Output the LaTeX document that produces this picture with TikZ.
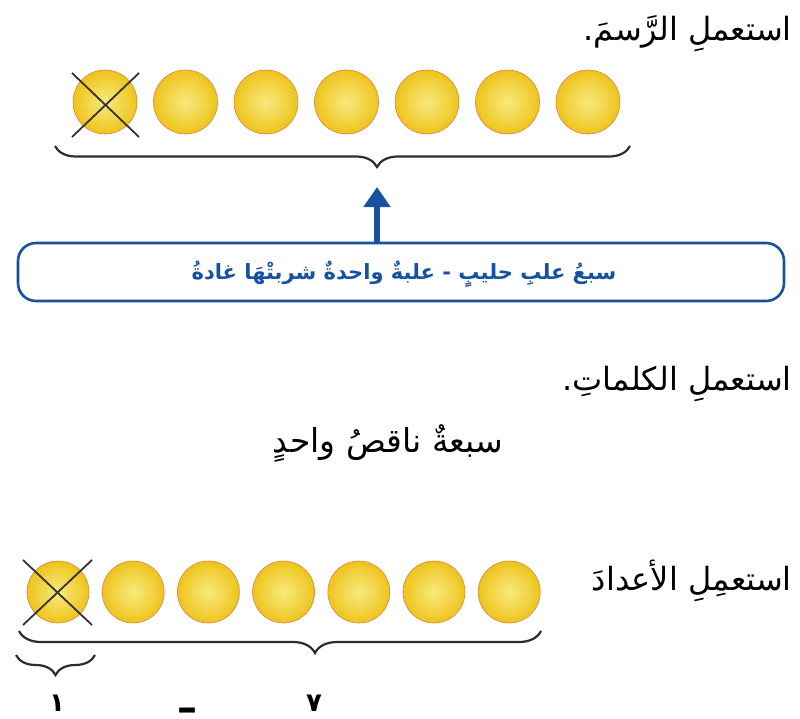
\documentclass[tikz,border=0pt]{standalone}
\usepackage{fontspec}
\TeXXeTstate=1
\newfontfamily\arabicfont[Script=Arabic]{DejaVu Sans}
\usetikzlibrary{decorations.pathreplacing,arrows.meta}
\definecolor{boxblue}{RGB}{22,82,160}
\definecolor{coinin}{RGB}{248,234,125}
\definecolor{coinout}{RGB}{238,196,28}
\definecolor{coinrim}{RGB}{222,130,60}
\definecolor{bracegray}{RGB}{45,45,45}
\tikzset{
  coin/.style={circle, minimum size=#1, inner sep=0pt, shading=radial,
    inner color=coinin, outer color=coinout, draw=coinrim, line width=0.6pt},
  xline/.style={draw=black!80, line width=1.8pt},
  bracelin/.style={draw=bracegray, line width=2.2pt, decorate,
    decoration={brace, mirror, amplitude=#1}},
  title/.style={anchor=base east, inner sep=0pt, font=\arabicfont\fontsize{32}{36}\selectfont},
  plain/.style={anchor=base, inner sep=0pt, font=\arabicfont\fontsize{33}{36}\selectfont},
  blubox/.style={draw=boxblue, line width=2.6pt, rounded corners=18pt,
    minimum width=766pt, minimum height=58pt, inner sep=0pt},
  bluearrow/.style={draw=boxblue, line width=6pt, -{Triangle[width=26pt,length=20pt]}},
  digit/.style={anchor=base, inner sep=0pt, font=\arabicfont\bfseries\fontsize{26}{28}\selectfont}
}
\begin{document}
\begin{tikzpicture}[x=1pt,y=-1pt]
\useasboundingbox[fill=white] (0,0) rectangle (800,718);

% titles
\node[title] (title1) at (792,40) {\beginR استعملِ الرَّسمَ.\endR};

% top coins
\foreach \i in {0,...,6}
  \node[coin=64pt] (t\i) at ({105+80.5*\i},102) {};
\draw[xline] ([shift={(-33,-29)}]t0.center) -- ([shift={(34,35)}]t0.center);
\draw[xline] ([shift={(34,-29)}]t0.center) -- ([shift={(-33,35)}]t0.center);

% top brace
\coordinate (tbl) at (55,146);
\coordinate (tbr) at (630,146);
\draw[bracelin=21pt, decoration={aspect=0.56}] (tbl) -- (tbr);
\coordinate (arrowend) at (377,187);

% blue box
\node[blubox] (box) at (401,272) {};
\node[anchor=base, inner sep=0pt, text=boxblue, font=\arabicfont\bfseries\fontsize{21}{24}\selectfont] (boxtext) at (404,279)
  {\beginR سبعُ علبِ حليبٍ - علبةٌ واحدةٌ شربتْهَا غادةُ\endR};
\draw[bluearrow] (box.north -| arrowend) -- (arrowend);

% words
\node[title] (title2) at (792,390) {\beginR استعملِ الكلماتِ.\endR};
\node[plain] (words) at (388,452) {\beginR سبعةٌ ناقصُ واحدٍ\endR};

% numbers
\node[title] (title3) at (792,590) {\beginR استعمِلِ الأعدادَ\endR};
\foreach \i in {0,...,6}
  \node[coin=62pt] (b\i) at ({58+75.2*\i},592) {};
\draw[xline] ([shift={(-35,-32)}]b0.center) -- ([shift={(34,33)}]b0.center);
\draw[xline] ([shift={(34,-32)}]b0.center) -- ([shift={(-35,33)}]b0.center);

\coordinate (bbl) at (19,631);
\coordinate (bbr) at (541,631);
\draw[bracelin=22pt, decoration={aspect=0.567}] (bbl) -- (bbr);
\coordinate (sbl) at (16,655);
\coordinate (sbr) at (95,655);
\draw[bracelin=20pt] (sbl) -- (sbr);

\node[digit] (one) at (57,711) {١};
\node[anchor=north, inner sep=0pt, font=\arabicfont\bfseries\fontsize{40}{40}\selectfont] (minus) at (187,708) {–};
\node[digit] (seven) at (314,711) {٧};
\end{tikzpicture}
\end{document}
